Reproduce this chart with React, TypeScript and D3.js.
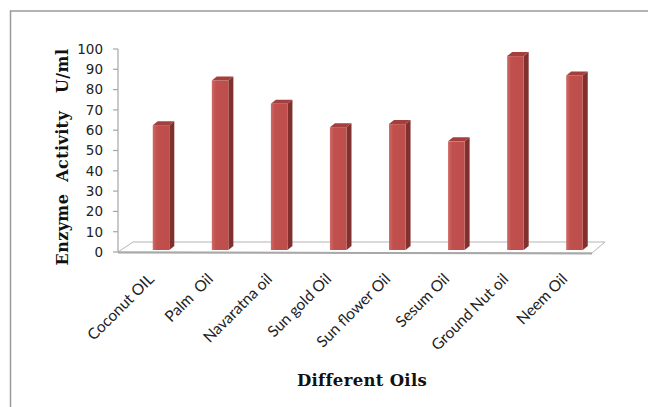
import React from "react";
import * as d3 from "d3";

const categories = ["Coconut OIL", "Palm  Oil", "Navaratna oil", "Sun gold Oil", "Sun flower Oil", "Sesum Oil", "Ground Nut oil", "Neem Oil"];
const values = [62.5, 84.5, 73, 61.5, 63, 54.5, 96.5, 87];
const yTicks = [0, 10, 20, 30, 40, 50, 60, 70, 80, 90, 100];
const yTitle = "Enzyme  Activity   U/ml";
const xTitle = "Different Oils";

const W = 648;
const H = 407;

export default function App() {
  const y = d3.scaleLinear().domain([0, 100]).range([252, 49]);
  const x = d3.scaleBand<string>().domain(categories).range([131.5, 604]).paddingInner(0.72).paddingOuter(0.36);
  const axisX = 118;
  const dx = 5, dy = 4;
  const floorPts = [[118, 252], [133, 242], [605, 242], [592, 253]];
  const floorPath = d3.line()(floorPts as [number, number][]) + "Z";
  const bw = x.bandwidth();

  return (
    <svg width={W} height={H} style={{ position: "absolute", left: 0, top: 0, background: "#fff" }}>
      <defs>
        <linearGradient id="front" x1="0" x2="1" y1="0" y2="0">
          <stop offset="0" stopColor="#cf6a67" />
          <stop offset="0.25" stopColor="#c0504d" />
          <stop offset="1" stopColor="#bd4e4b" />
        </linearGradient>
      </defs>
      <rect x={10.5} y={11} width={660} height={420} fill="#fff" stroke="#9a9a9a" strokeWidth={1.5} />
      {/* floor */}
      <path d={floorPath} fill="#fff" stroke="#b5b5b5" strokeWidth={1} />
      <line x1={118} y1={252.5} x2={592} y2={253.5} stroke="#a8a8a8" strokeWidth={2} />
      {/* y axis */}
      <line x1={axisX} y1={y(100)} x2={axisX} y2={y(0)} stroke="#a6a6a6" strokeWidth={1.2} />
      {yTicks.map((t) => (
        <g key={t}>
          <line x1={axisX - 5} x2={axisX} y1={y(t)} y2={y(t)} stroke="#a6a6a6" strokeWidth={1.2} />
          <text x={103} y={y(t)} dy="0.36em" textAnchor="end" fontFamily="DejaVu Sans" fontSize={13.5} fill="#222">{t}</text>
        </g>
      ))}
      {/* bars */}
      {categories.map((c, i) => {
        const x0 = x(c) as number;
        const x1 = x0 + bw;
        const yt = y(values[i]);
        const yb = y(0) - 2;
        const top = `M${x0},${yt}L${x0 + dx},${yt - dy}L${x1 + dx},${yt - dy}L${x1},${yt}Z`;
        const side = `M${x1},${yt}L${x1 + dx},${yt - dy}L${x1 + dx},${yb - dy}L${x1},${yb}Z`;
        return (
          <g key={c}>
            <path d={side} fill="#81302e" />
            <path d={top} fill="#a33f3c" />
            <rect x={x0} y={yt} width={bw} height={yb - yt} fill="url(#front)" />
          </g>
        );
      })}
      {/* x labels */}
      {categories.map((c) => {
        const cx = (x(c) as number) + bw / 2;
        const lx = cx - 6;
        const ly = 280;
        return (
          <text key={c} x={lx} y={ly} transform={`rotate(-45 ${lx} ${ly})`} textAnchor="end" fontFamily="Lato" fontSize={15.5} fill="#222" style={{ whiteSpace: "pre" }}>{c}</text>
        );
      })}
      {/* titles */}
      <text transform={`translate(68 157) rotate(-90)`} textAnchor="middle" fontFamily="DejaVu Serif" fontWeight="bold" fontSize={16} letterSpacing={0.4} fill="#111" style={{ whiteSpace: "pre" }}>{yTitle}</text>
      <text x={362} y={386} textAnchor="middle" fontFamily="DejaVu Serif" fontWeight="bold" fontSize={16.5} letterSpacing={0.3} fill="#111">{xTitle}</text>
    </svg>
  );
}
